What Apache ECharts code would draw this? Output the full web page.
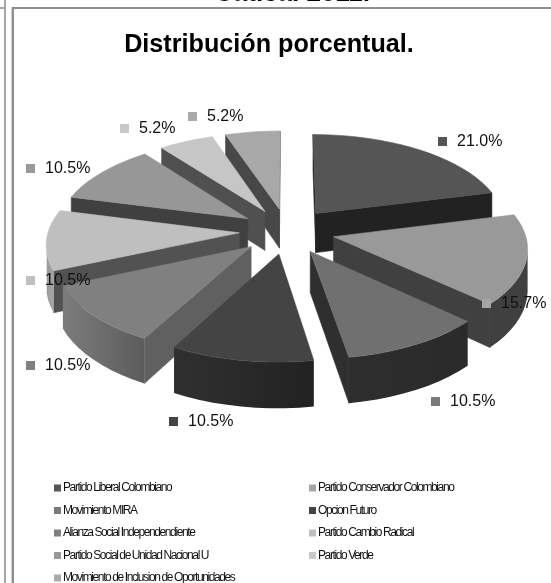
<!DOCTYPE html>
<html><head><meta charset="utf-8">
<style>html,body{margin:0;padding:0;background:#fff}#c{width:551px;height:583px}</style>
<script src="https://cdn.jsdelivr.net/npm/echarts@6/dist/echarts.min.js"></script>
</head><body><div id="c"></div>
<script>
const parties = ['Partido Liberal Colombiano','Partido Conservador Colombiano','Movimiento MIRA','Opcion Futuro','Alianza Social Independendiente','Partido Cambio Radical','Partido Social de Unidad Nacional U','Partido Verde','Movimiento de Inclusion de Oportunidades'];
const shares = [21.0,15.7,10.5,10.5,10.5,10.5,10.5,5.2,5.2];
const chartTitle = 'Distribución porcentual.';
const pageHeading = 'Cauca. 2011.';

// styles, one per slice
const topColors   = ['#555555','#999999','#707070','#444444','#808080','#bfbfbf','#979797','#c6c6c6','#a8a8a8'];
const sideColors  = ['#222222','#404040','#2f2f2f','#2a2a2a','#606060','#525252','#404040','#505050','#484848'];
const rimFrom     = ['#222222','#404040','#2e2e2e','#303030','#7c7c7c','#9a9a9a','#606060','#707070','#606060'];
const rimTo       = ['#222222','#404040','#2a2a2a','#222222','#5c5c5c','#a8a8a8','#606060','#707070','#606060'];
const legendColors= ['#555555','#a5a5a5','#7a7a7a','#444444','#808080','#bfbfbf','#999999','#c8c8c8','#aaaaaa'];
const drawOrder   = [8,7,0,6,5,1,4,2,3];
// label anchor (left edge of the key square, text middle), one per slice
const labelAnchor = [[438,142],[482,304],[431,402],[169,422],[26,366],[26,281],[26,169],[120,129],[188,117]];

// projection of the tilted disc
const CX=287, CY=231, RXP=191, RYP=91, PERSP=0.108, EXPLODE=0.25, DEPTH=40, STEPS=48;
const total = shares.reduce((a,b)=>a+b,0);
function project(X,Y,drop){
  const s=1/(1-PERSP*Y);
  return [CX+RXP*X*s, CY+RYP*Y*s+(drop?DEPTH*s:0)];
}
function sliceGeom(i){
  let before=0; for(let k=0;k<i;k++) before+=shares[k];
  const a0=before/total*2*Math.PI, a1=(before+shares[i])/total*2*Math.PI, mid=(a0+a1)/2;
  const ox=EXPLODE*Math.sin(mid), oy=-EXPLODE*Math.cos(mid);
  const rim=[], n=Math.max(4,Math.round(STEPS*(a1-a0)/(Math.PI/2)/2));
  for(let k=0;k<=n;k++){const a=a0+(a1-a0)*k/n; rim.push([ox+Math.sin(a),oy-Math.cos(a)]);}
  return {apex:[ox,oy],rim};
}
function poly(points,fill,z2){
  return {type:'polygon',shape:{points},z2,style:{fill,stroke:fill,lineWidth:0.6}};
}
function renderSlice(i){
  const g=sliceGeom(i), ch=[];
  const A=g.apex, R=g.rim, top=p=>project(p[0],p[1],false), low=p=>project(p[0],p[1],true);
  const wall=(a,b,z)=>poly([top(a),top(b),low(b),low(a)],sideColors[i],z);
  if(top(R[0])[0]<top(A)[0]) ch.push(wall(A,R[0],1));
  const last=R[R.length-1];
  if(top(A)[0]<top(last)[0]) ch.push(wall(last,A,1));
  const vis=[];
  for(let k=0;k<R.length;k++){ if(k<R.length-1? top(R[k+1])[0]<top(R[k])[0] : top(R[k])[0]<top(R[k-1])[0]) vis.push(R[k]); }
  if(vis.length>1){
    const upper=vis.map(top), lower=vis.map(low).reverse();
    const xs=upper.map(p=>p[0]), x0=Math.min(...xs), x1=Math.max(...xs);
    ch.push({type:'polygon',shape:{points:upper.concat(lower)},z2:2,style:{fill:new echarts.graphic.LinearGradient(x0,0,x1,0,[{offset:0,color:rimFrom[i]},{offset:1,color:rimTo[i]}],true)}});
  }
  ch.push(poly([top(A)].concat(R.map(top)),topColors[i],3));
  return {type:'group',children:ch};
}
const series = parties.map((name,i)=>({
  name, type:'custom', coordinateSystem:'none', silent:true, animation:false,
  z:2+drawOrder.indexOf(i), itemStyle:{color:legendColors[i]},
  data:[[shares[i]]],
  renderItem:()=>renderSlice(i)
}));
const labelGraphics = [];
shares.forEach((v,i)=>{
  const [x,y]=labelAnchor[i];
  labelGraphics.push({type:'rect',z:50,shape:{x,y:y-5,width:9,height:9},style:{fill:legendColors[i]}});
  labelGraphics.push({type:'text',z:51,x:x+19,y,style:{text:v.toFixed(1)+'%',font:'16px "Liberation Sans"',fill:'#111',textVerticalAlign:'middle'}});
});
const frame=[[4,0,2,583,'#a6a6a6'],[0,7,5,2,'#a6a6a6'],[11,7,1,576,'#cfcfcf'],[12,7,2,576,'#8f8f8f'],[12,7,539,2,'#8f8f8f']]
 .map(r=>({type:'rect',z:60,shape:{x:r[0],y:r[1],width:r[2],height:r[3]},style:{fill:r[4]}}));
function legendCol(left,top,idx){
  return {left,top,height:120,padding:0,zlevel:5,orient:'vertical',itemWidth:7,itemHeight:7,itemGap:10.5,icon:'rect',
    data:idx.map(i=>parties[i]),selectedMode:false,
    textStyle:{fontFamily:'"Liberation Sans"',fontSize:12,color:'#111',padding:[0,0,0,-3],lineHeight:12}};
}
const chart=echarts.init(document.getElementById('c'),null,{renderer:'canvas'});
chart.setOption({
  animation:false,backgroundColor:'#fff',
  title:{text:chartTitle,left:264,textAlign:'center',top:28,textStyle:{fontFamily:'"Liberation Sans"',fontWeight:'bold',fontSize:25.2,color:'#000'}},
  legend:[legendCol(54,482,[0,2,4,6,8]),legendCol(309,482,[1,3,5,7])],
  graphic:{elements:frame.concat(labelGraphics,[{type:'text',z:55,x:292,y:7,style:{text:pageHeading,font:'bold 26px "Liberation Sans"',fill:'#000',textAlign:'center',textVerticalAlign:'bottom'}}])},
  series
});
// the reference's legend is set tight: track text on the legend's own canvas layer only
const zr=chart.getZr();
const legendCtx=zr.painter.getLayer(5).ctx;
const plainFill=legendCtx.fillText;
legendCtx.fillText=function(t,x,y){ this.letterSpacing='-1.4px'; return plainFill.call(this,t,x,y); };
zr.painter.getLayer(5).__dirty=true;
chart.resize();
</script></body></html>
